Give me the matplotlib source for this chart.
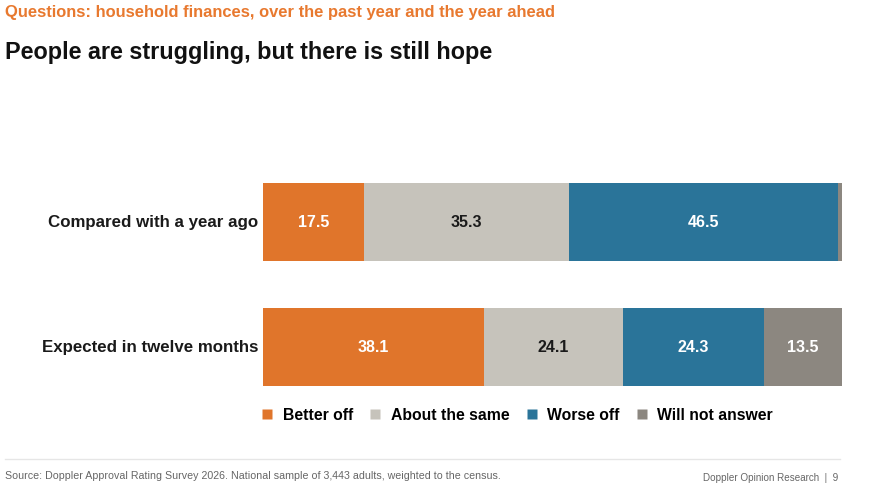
import matplotlib
matplotlib.use("Agg")
import matplotlib.pyplot as plt
from matplotlib.lines import Line2D

plt.rcParams['font.family'] = ['Liberation Sans', 'DejaVu Sans']

categories = ["Compared with a year ago", "Expected in twelve months"]
series_names = ["Better off", "About the same", "Worse off", "Will not answer"]
better_off = [17.5, 38.1]
about_same = [35.3, 24.1]
worse_off = [46.5, 24.3]
no_answer = [0.7, 13.5]
series_values = [better_off, about_same, worse_off, no_answer]
colors = ["#E0752B", "#C6C3BB", "#2A7499", "#8C8780"]
label_colors = ["white", "#1a1a1a", "white", "white"]

W, H = 870, 495
fig = plt.figure(figsize=(W / 100, H / 100), dpi=100)

ax = fig.add_axes([263 / W, 1 - 386 / H, (842 - 263) / W, (386 - 183) / H])
bh = 0.624
ypos = list(range(len(categories)))
lefts = [0.0] * len(categories)
for name, vals, c, lc in zip(series_names, series_values, colors, label_colors):
    ax.barh(ypos, vals, left=lefts, height=bh, color=c, edgecolor='none')
    for i, v in enumerate(vals):
        if v >= 5:
            ax.text(lefts[i] + v / 2, ypos[i], f"{v:.1f}", ha='center', va='center',
                    color=lc, fontsize=11.5, fontweight='bold')
    lefts = [l + v for l, v in zip(lefts, vals)]

ax.set_xlim(0, 100)
ax.set_ylim(1 + bh / 2, -bh / 2)
ax.axis('off')
for i, cat in enumerate(categories):
    ax.text(-0.8, ypos[i], cat, ha='right', va='center', fontsize=12.2, fontweight='bold',
            color='#1a1a1a')

handles = [Line2D([0], [0], marker='s', linestyle='none', markersize=7,
                  markerfacecolor=c, markeredgecolor='none') for c in colors]
fig.legend(handles, series_names, loc='center', bbox_to_anchor=(517 / W, 1 - 415 / H),
           ncol=4, frameon=False, handlelength=0.8, handletextpad=0.6,
           columnspacing=1.0, prop={'weight': 'bold', 'size': 11.3})

fig.text(5 / W, 1 - 13 / H, "Questions: household finances, over the past year and the year ahead",
         ha='left', va='center', fontsize=11.9, fontweight='bold', color='#E8792F')
fig.text(5 / W, 1 - 53 / H, "People are struggling, but there is still hope",
         ha='left', va='center', fontsize=16.8, fontweight='bold', color='#111111')

fig.add_artist(Line2D([5 / W, 840 / W], [1 - 459 / H, 1 - 459 / H], color='#e6e6e6', lw=1))
fig.text(5 / W, 1 - 476 / H,
         "Source: Doppler Approval Rating Survey 2026. National sample of 3,443 adults, weighted to the census.",
         ha='left', va='center', fontsize=7.65, color='#666666')
fig.text(838 / W, 1 - 478 / H, "Doppler Opinion Research  |  9", ha='right', va='center',
         fontsize=7.1, color='#666666')

fig.savefig("out.png", dpi=100, facecolor='white')
